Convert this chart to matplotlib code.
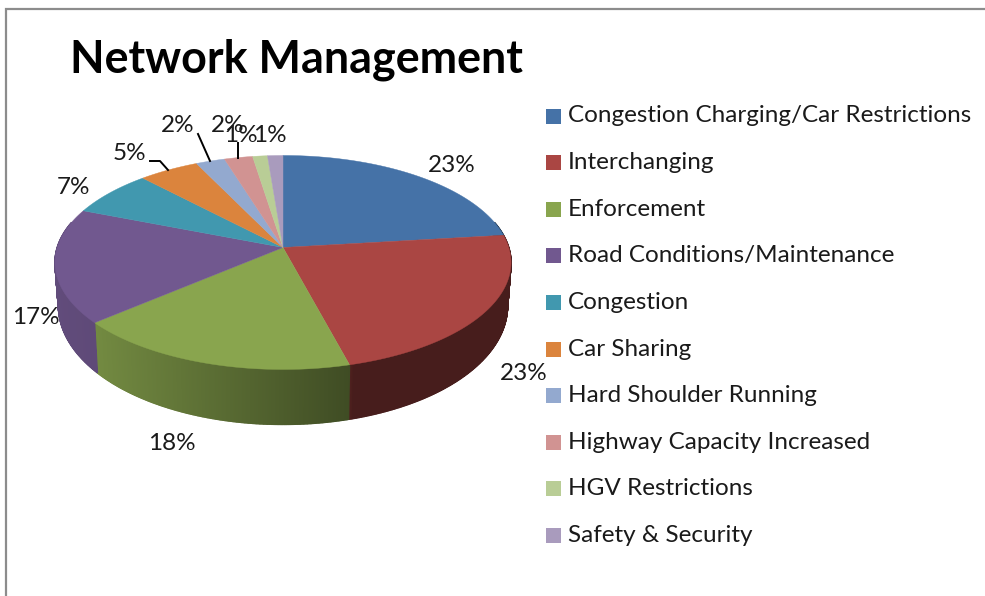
import numpy as np
import matplotlib
matplotlib.use('Agg')
import matplotlib.pyplot as plt
from matplotlib.colors import to_rgb
from matplotlib.patches import Rectangle

categories = ['Congestion Charging/Car Restrictions', 'Interchanging', 'Enforcement',
              'Road Conditions/Maintenance', 'Congestion', 'Car Sharing',
              'Hard Shoulder Running', 'Highway Capacity Increased', 'HGV Restrictions',
              'Safety & Security']
values = [23.1, 22.8, 17.8, 17.3, 7.0, 4.9, 2.35, 2.3, 1.2, 1.25]
colors = ['#4572A7', '#AA4643', '#89A54E', '#71588F', '#4198AF',
          '#DB843D', '#93A9CF', '#D19392', '#B9CD96', '#A99BBD']
titleText = 'Network Management'

# -- Label placement, in figure pixels --
labelPos = [(452, 166), (524, 374), (172, 444), (36, 318), (74, 188),
            (129, 154), (178, 126), (228, 126), (241, 136), (270, 135)]
leaders = [None, None, None, None, None,
           [(150, 161), (160, 161), (168, 170)],
           [(198, 134), (210, 161)],
           [(238, 143), (238, 158)], None, None]

# -- Perspective of the pie top --
cx, cy = 283, 247.5
radX, radY = 225.8, 104.9
persp = -0.14


def project(theta):
    u, v = np.sin(theta), -np.cos(theta)
    den = 1 + persp*v
    return cx + radX*u/den, cy + radY*v/den


def project_bottom(theta):
    x, y = project(theta)
    v = -np.cos(theta)
    return cx + (x-cx)*0.985, y + 41 + 14*v


def side_shade(x):
    return np.interp(x, [55, 93, 351, 352, 511], [0.86, 0.84, 0.46, 0.42, 0.42])


fig = plt.figure(figsize=(9.85, 5.96), dpi=100)
ax = fig.add_axes([0, 0, 1, 1])
ax.set_xlim(0, 985)
ax.set_ylim(596, 0)
ax.axis('off')

# -- Chart frame --
ax.plot([5.5, 5.5, 985], [596, 9, 9], color='#8c8c8c', lw=1.6, solid_joinstyle='miter')

edges = 2*np.pi*np.cumsum([0] + values)/np.sum(values)

# -- Side wall, drawn as thin strips so the shade can change along it --
for ind in range(len(values)):
    thetas = np.linspace(edges[ind], edges[ind+1], max(int(values[ind]*12), 4))
    for t0, t1 in zip(thetas[:-1], thetas[1:]):
        if np.cos((t0+t1)/2) > 0.25:
            continue
        x0, y0 = project(t0)
        x1, y1 = project(t1)
        xb0, yb0 = project_bottom(t0)
        xb1, yb1 = project_bottom(t1)
        col = np.array(to_rgb(colors[ind]))*side_shade((x0+x1)/2)
        ax.fill([x0, x1, xb1, xb0], [y0, y1, yb1, yb0], color=col, lw=1.0, zorder=2)

# -- Top face --
for ind in range(len(values)):
    thetas = np.linspace(edges[ind], edges[ind+1], 80)
    xs, ys = project(thetas)
    ax.fill(np.r_[cx, xs], np.r_[cy, ys], color=colors[ind], lw=0.3, zorder=3)

# -- Data labels --
for val, pos in zip(values, labelPos):
    ax.text(pos[0], pos[1], '{:.0f}%'.format(val), fontsize=17.5, family='Lato', color='#1a1a1a',
            ha='center', va='center', zorder=5)
for line in leaders:
    if line is not None:
        ax.plot(*zip(*line), color='k', lw=1.4, zorder=4)

# -- Legend --
for ind, name in enumerate(categories):
    yPos = 116 + ind*46.6
    ax.add_patch(Rectangle((546, yPos-7.5), 15, 15, color=colors[ind], lw=0))
    ax.text(568, yPos, name, fontsize=17.45, family='Lato', color='#1a1a1a', va='center', ha='left')

ax.text(70, 60, titleText, fontsize=32.3, family='Lato', weight='bold', color='k', va='center', ha='left')

plt.savefig('out.png', dpi=100)
